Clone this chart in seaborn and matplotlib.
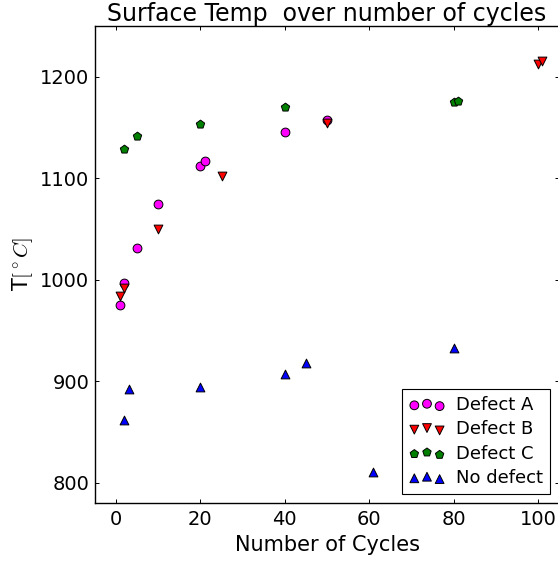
import matplotlib
matplotlib.use("Agg")
import matplotlib.pyplot as plt
import seaborn as sns
import pandas as pd

# ---- data ----
defect_a_cycles = [1, 2, 5, 10, 20, 21, 40, 50]
defect_a_temp = [975, 997, 1031, 1075, 1112, 1117, 1146, 1158]

defect_b_cycles = [1, 2, 10, 25, 50, 100, 101]
defect_b_temp = [984, 992, 1050, 1102, 1155, 1213, 1216]

defect_c_cycles = [2, 5, 20, 40, 80, 81]
defect_c_temp = [1129, 1142, 1154, 1170, 1175, 1176]

no_defect_cycles = [2, 3, 20, 40, 45, 61, 80]
no_defect_temp = [862, 893, 895, 907, 918, 811, 933]

series_labels = ["Defect A", "Defect B", "Defect C", "No defect"]
x_ticks = [0, 20, 40, 60, 80, 100]
y_ticks = [800, 900, 1000, 1100, 1200]

# ---- style ----
sns.set_theme(style="white")
plt.rcParams.update({
    "font.family": ["DejaVu Sans"],
    "mathtext.fontset": "cm",
    "xtick.direction": "in",
    "ytick.direction": "in",
    "xtick.top": True,
    "ytick.right": True,
    "xtick.bottom": True,
    "ytick.left": True,
    "xtick.major.size": 3.2,
    "ytick.major.size": 3.2,
    "xtick.major.width": 0.7,
    "ytick.major.width": 0.7,
    "xtick.major.pad": 5,
    "ytick.major.pad": 4,
    "axes.edgecolor": "black",
    "axes.linewidth": 1.0,
    "xtick.color": "black",
    "ytick.color": "black",
    "text.color": "black",
    "axes.labelcolor": "black",
})

fig = plt.figure(figsize=(5.58, 5.61), dpi=100)
ax = fig.add_axes([0.1701, 0.1029, 0.8319, 0.8504])

groups = [
    (defect_a_cycles, defect_a_temp, "#FF00FF", "o"),
    (defect_b_cycles, defect_b_temp, "#FF0000", "v"),
    (defect_c_cycles, defect_c_temp, "#008000", "p"),
    (no_defect_cycles, no_defect_temp, "#0000FF", "^"),
]
for (xs, ys, col, mk), lab in zip(groups, series_labels):
    df = pd.DataFrame({"cycles": xs, "temp": ys})
    sns.scatterplot(data=df, x="cycles", y="temp", ax=ax, color=col, marker=mk,
                    s=40, edgecolor="black", linewidth=0.7, label=lab, legend=False)

ax.set_xlim(-5, 105)
ax.set_ylim(780, 1250)
ax.set_xticks(x_ticks)
ax.set_yticks(y_ticks)
ax.tick_params(labelsize=14)
ax.set_xlabel("Number of Cycles", fontsize=15)
ax.set_ylabel(r"T$[^\circ C]$", fontsize=15)
ax.set_title("Surface Temp  over number of cycles", fontsize=17, pad=4)

leg = ax.legend(loc="lower right", scatterpoints=3, fontsize=13, fancybox=False,
                frameon=True, edgecolor="black", framealpha=1,
                borderaxespad=0.5, labelspacing=0.35, handletextpad=0.6)
leg.get_frame().set_linewidth(0.8)

fig.savefig("out.png", dpi=100)
